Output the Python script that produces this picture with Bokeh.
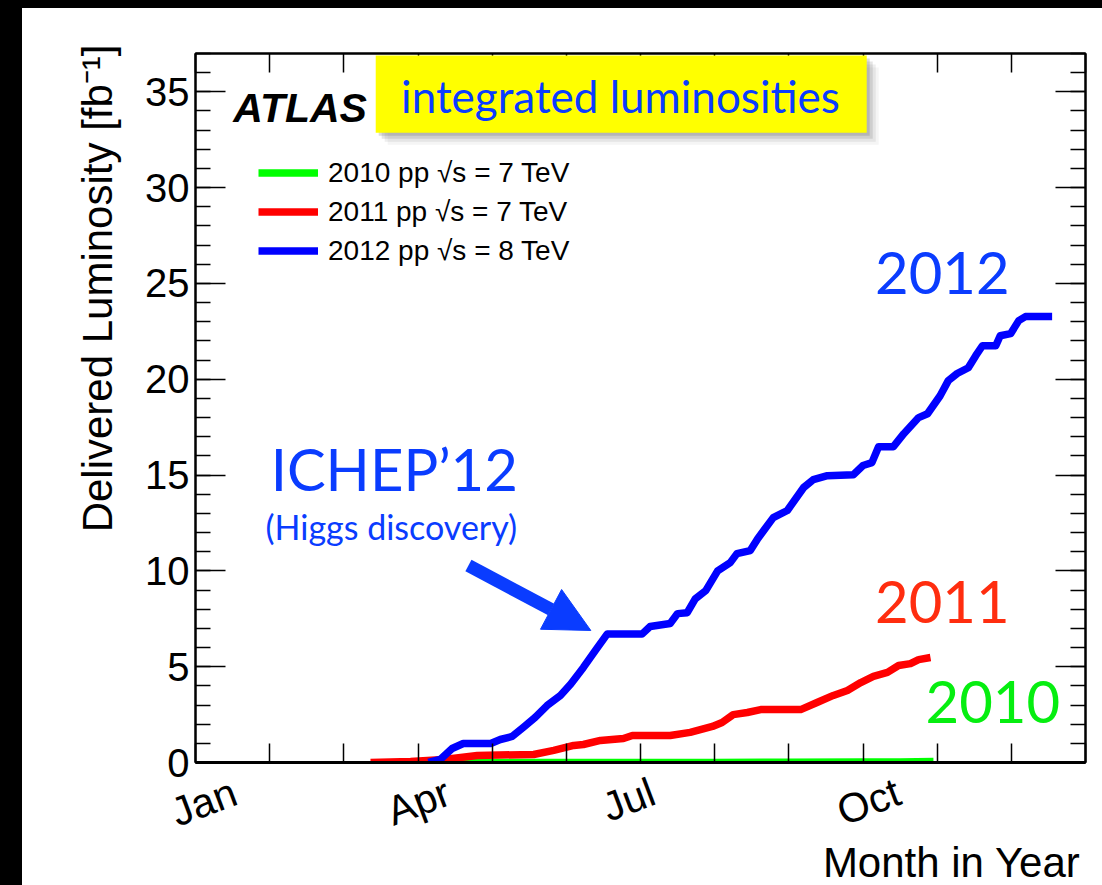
from bokeh.plotting import figure
from bokeh.models import (Range1d, FixedTicker, LinearAxis, Title, Legend, LegendItem,
                          Label, BoxAnnotation, Arrow, NormalHead, Div)
from bokeh.layouts import row, column
from bokeh.embed import file_html
from bokeh.resources import INLINE

# ---------------- data (month of year: 0 = 1 Jan, 12 = end of Dec; luminosity in fb^-1)
month_2010 = [2.97, 4.0, 5.0, 6.0, 7.0, 8.0, 9.0, 9.5, 9.95]
lumi_2010 = [0.0, 0.0002, 0.001, 0.003, 0.004, 0.01, 0.02, 0.03, 0.048]

month_2011 = [2.36, 2.90, 3.35, 3.80, 4.56, 4.83, 5.10, 5.23, 5.46, 5.77, 5.89, 6.40, 6.67,
              6.97, 7.10, 7.25, 7.44, 7.62, 8.16, 8.38, 8.60, 8.79, 8.97, 9.14, 9.33, 9.48,
              9.64, 9.75, 9.91]
lumi_2011 = [0.0, 0.05, 0.16, 0.37, 0.42, 0.63, 0.89, 0.94, 1.15, 1.25, 1.41, 1.41, 1.57,
             1.88, 2.09, 2.50, 2.61, 2.76, 2.76, 3.13, 3.50, 3.76, 4.17, 4.49, 4.70, 5.06,
             5.16, 5.37, 5.48]

month_2012 = [3.14, 3.30, 3.46, 3.61, 3.98, 4.11, 4.27, 4.42, 4.58, 4.74, 4.92, 5.06, 5.23,
              5.39, 5.55, 6.02, 6.13, 6.40, 6.50, 6.63, 6.74, 6.88, 7.04, 7.21, 7.30, 7.48,
              7.58, 7.79, 7.98, 8.20, 8.33, 8.52, 8.87, 9.00, 9.12, 9.21, 9.41, 9.55, 9.75,
              9.87, 10.04, 10.15, 10.27, 10.42, 10.52, 10.61, 10.79, 10.85, 10.99, 11.10,
              11.19, 11.55]
lumi_2012 = [0.0, 0.16, 0.73, 0.99, 0.99, 1.20, 1.36, 1.83, 2.35, 2.97, 3.50, 4.10, 4.96,
             5.84, 6.70, 6.70, 7.10, 7.25, 7.77, 7.82, 8.55, 8.97, 10.00, 10.43, 10.90, 11.06,
             11.68, 12.78, 13.15, 14.35, 14.76, 14.97, 15.02, 15.50, 15.65, 16.48, 16.48,
             17.16, 18.00, 18.20, 19.14, 19.93, 20.30, 20.60, 21.23, 21.75, 21.75, 22.27,
             22.38, 23.06, 23.27, 23.27]

month_ticks = list(range(13))
month_label_at = [0, 3, 6, 9]
month_names = ["Jan", "Apr", "Jul", "Oct"]
label_offsets = [0.53, 0.41, 0.17, 0.48]   # where each rotated label ends, past its month
lumi_major = list(range(0, 36, 5))
lumi_minor = list(range(0, 38))
legend_labels = ["2010 pp \u221as = 7 TeV", "2011 pp \u221as = 7 TeV", "2012 pp \u221as = 8 TeV"]

GREEN, RED, BLUE = "#00ff00", "#ff0000", "#0000ff"
TXT_BLUE, TXT_RED, TXT_GREEN = "#0a3cff", "#ff2d0f", "#06ee10"
SANS = "Liberation Sans"
GILL = "Lato"

p = figure(width=1080, height=877, output_backend="svg", toolbar_location=None,
           x_range=Range1d(0, 12), y_range=Range1d(0, 37),
           min_border_left=173, min_border_right=17, min_border_top=45, min_border_bottom=123,
           background_fill_color="white", border_fill_color="white")
p.grid.visible = False
p.outline_line_color = "black"
p.outline_line_width = 2

# bottom axis: month ticks as minor ticks, labels on shifted (invisible) major ticks
label_pos = [m + o for m, o in zip(month_label_at, label_offsets)]
xa = p.xaxis[0]
xa.ticker = FixedTicker(ticks=label_pos, minor_ticks=month_ticks)
xa.major_label_overrides = {pos: name for pos, name in zip(label_pos, month_names)}
xa.major_tick_in = 0
xa.major_tick_out = 0
xa.minor_tick_in = 19
xa.minor_tick_out = 0
xa.minor_tick_line_width = 1.5
xa.minor_tick_line_color = "black"
xa.axis_line_width = 3
xa.axis_line_color = "black"
xa.major_label_orientation = 0.36
xa.major_label_text_font = SANS
xa.major_label_text_font_size = "41px"
xa.major_label_text_color = "black"
xa.major_label_standoff = 28

ya = p.yaxis[0]
ya.ticker = FixedTicker(ticks=lumi_major, minor_ticks=lumi_minor)
ya.major_tick_in = 30
ya.major_tick_out = 0
ya.minor_tick_in = 15
ya.minor_tick_out = 0
ya.major_tick_line_width = 1.5
ya.minor_tick_line_width = 1.5
ya.axis_line_width = 2
ya.major_label_text_font = SANS
ya.major_label_text_font_size = "40px"
ya.major_label_text_color = "black"
ya.major_label_standoff = 6

# mirrored ticks on the right (short and long) and on top, without labels
p.add_layout(LinearAxis(ticker=FixedTicker(ticks=[], minor_ticks=lumi_minor),
                        major_tick_in=0, major_tick_out=0, minor_tick_in=15, minor_tick_out=0,
                        minor_tick_line_width=1.5, axis_line_width=2,
                        major_label_standoff=0), "right")
p.add_layout(LinearAxis(ticker=FixedTicker(ticks=[], minor_ticks=lumi_major),
                        major_tick_in=0, major_tick_out=0, minor_tick_in=30, minor_tick_out=0,
                        minor_tick_line_width=1.5, axis_line_color=None,
                        major_label_standoff=0), "right")
p.add_layout(LinearAxis(ticker=FixedTicker(ticks=[], minor_ticks=month_ticks),
                        major_tick_in=0, major_tick_out=0, minor_tick_in=19, minor_tick_out=0,
                        minor_tick_line_width=1.5, axis_line_width=2,
                        major_label_standoff=0), "above")

p.add_layout(Title(text="Delivered Luminosity [fb\u207b\u00b9]", align="right",
                   text_font=SANS, text_font_size="42px", text_font_style="normal",
                   text_color="black", standoff=44, offset=-9), "left")
p.add_layout(Title(text="Month in Year", align="right", offset=5, standoff=-46,
                   text_font=SANS, text_font_size="42px", text_font_style="normal",
                   text_color="black"), "below")

# data lines
r10 = p.line(month_2010, lumi_2010, line_color=GREEN, line_width=7.5, line_join="round")
r11 = p.line(month_2011, lumi_2011, line_color=RED, line_width=7.5, line_join="round")
r12 = p.line(month_2012, lumi_2012, line_color=BLUE, line_width=7.5, line_join="round")

legend = Legend(items=[LegendItem(label=legend_labels[0], renderers=[r10]),
                       LegendItem(label=legend_labels[1], renderers=[r11]),
                       LegendItem(label=legend_labels[2], renderers=[r12])],
                location=(63, 492), label_text_font=SANS, label_text_font_size="28px",
                label_text_color="black", glyph_width=60, glyph_height=39, label_height=39,
                spacing=0, padding=0, margin=0, label_standoff=10,
                border_line_color=None, background_fill_alpha=0)
p.add_layout(legend)

# yellow title box with a soft shadow
mx, vy = 1 / 74.17, 1 / 19.17
bx0, bx1, by0, by1 = 2.43, 9.05, 32.86, 36.9
for d, a in [(12, 0.06), (9, 0.10), (6, 0.16), (3, 0.2)]:
    p.add_layout(BoxAnnotation(left=bx0 + d * mx, right=bx1 + d * mx,
                               bottom=by0 - d * vy, top=by1 - d * vy,
                               fill_color="#555555", fill_alpha=a, line_color=None))
p.add_layout(BoxAnnotation(left=bx0, right=bx1, bottom=by0, top=by1,
                           fill_color="#ffff00", fill_alpha=1, line_color=None))


def note(x, y, text, size, color, font=GILL, style="normal", align="center"):
    p.add_layout(Label(x=x, y=y, text=text, text_align=align, text_baseline="middle",
                       text_font=font, text_font_size=size, text_font_style=style,
                       text_color=color))


note(5.73, 34.76, "integrated luminosities", "44px", TXT_BLUE)
note(0.51, 34.13, "ATLAS", "41px", "black", font=SANS, style="bold italic", align="left")
note(10.07, 25.55, "2012", "58px", TXT_BLUE)
note(10.07, 8.38, "2011", "58px", TXT_RED)
note(10.75, 3.18, "2010", "58px", TXT_GREEN)
note(2.68, 15.32, "ICHEP\u201912", "58px", TXT_BLUE)
note(2.64, 12.29, "(Higgs discovery)", "34px", TXT_BLUE)

p.add_layout(Arrow(end=NormalHead(size=45, fill_color=TXT_BLUE, line_color=TXT_BLUE),
                   x_start=3.68, y_start=10.28, x_end=5.33, y_end=6.89,
                   line_color=TXT_BLUE, line_width=13))

top_band = Div(text="", width=1102, height=8, margin=0, styles={"background-color": "black"})
left_band = Div(text="", width=22, height=877, margin=0, styles={"background-color": "black"})
layout = column(top_band, row(left_band, p))

open("out.html", "w").write(file_html(layout, INLINE))
